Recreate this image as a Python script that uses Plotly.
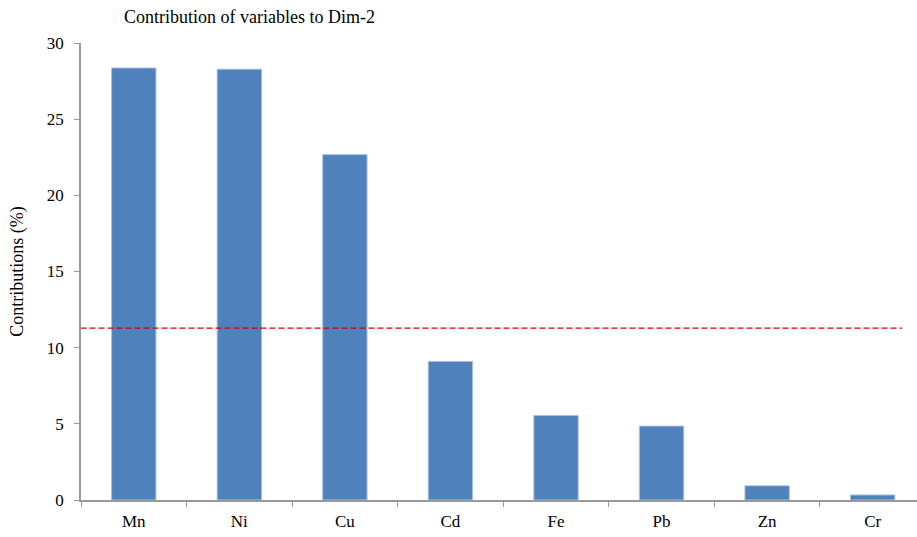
import plotly.graph_objects as go

categories = ["Mn", "Ni", "Cu", "Cd", "Fe", "Pb", "Zn", "Cr"]
contributions = [28.36, 28.28, 22.67, 9.1, 5.55, 4.85, 0.93, 0.33]
reference_line = 11.28

font_family = "Liberation Serif, Times New Roman, serif"

fig = go.Figure()
fig.add_trace(go.Bar(
    x=categories, y=contributions,
    marker=dict(color="#4F81BD", line=dict(color="#A7BFDF", width=1)),
    width=0.42,
))

fig.add_shape(type="line", xref="x", yref="y",
              x0=-0.59, x1=7.28, y0=reference_line, y1=reference_line,
              line=dict(color="#D40000", width=1.3, dash="6px,3px"))

fig.update_layout(
    width=917, height=537,
    margin=dict(l=81, r=0, t=43, b=37),
    paper_bgcolor="white", plot_bgcolor="white",
    showlegend=False,
    font=dict(family=font_family, color="black", size=17),
    title=dict(text="Contribution of variables to Dim-2", x=124/917, xanchor="left",
               y=1 - 17/537, yanchor="middle", font=dict(size=18, family=font_family)),
    xaxis=dict(range=[-0.5, 7.42], showline=True, linecolor="#999999", linewidth=1.5,
               ticks="outside", tickson="boundaries", ticklen=5, tickcolor="#999999",
               showgrid=False, tickfont=dict(size=17), ticklabelstandoff=5),
    yaxis=dict(range=[0, 30], tickvals=[0, 5, 10, 15, 20, 25, 30], showline=True,
               linecolor="#999999", linewidth=1.5, ticks="outside", ticklen=5,
               tickcolor="#999999", showgrid=False, zeroline=False,
               ticklabelstandoff=7,
               title=dict(text="Contributions (%)", font=dict(size=18), standoff=19),
               tickfont=dict(size=17)),
)

fig.write_html("out.html", config={"displayModeBar": False},
               post_script="document.body.style.margin='0';document.body.style.overflow='hidden';")
